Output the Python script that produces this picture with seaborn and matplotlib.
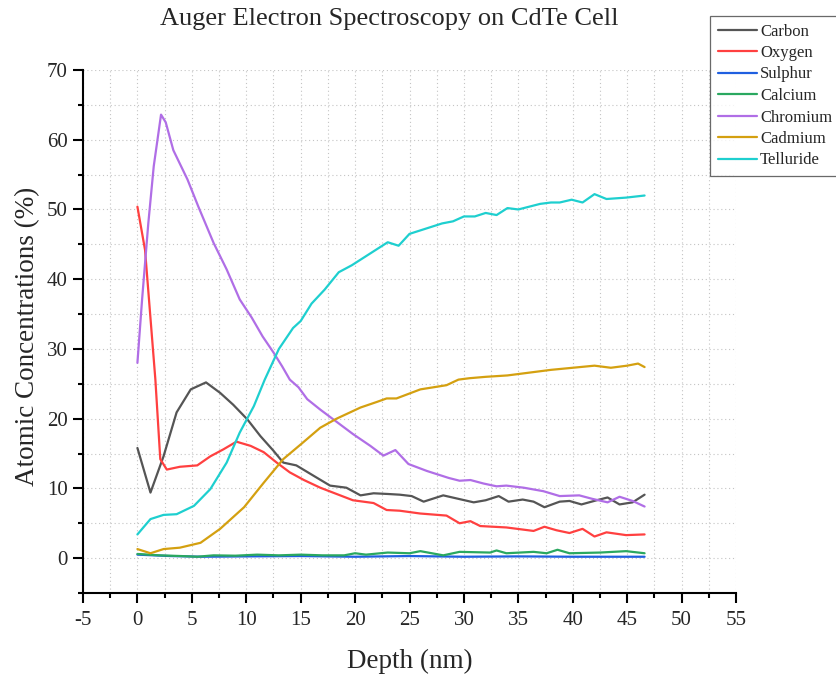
import numpy as np
import pandas as pd
import matplotlib
matplotlib.use("Agg")
import matplotlib.pyplot as plt
from matplotlib.ticker import MultipleLocator
import seaborn as sns

# ---- data ----
carbon_x = [0, 1.2, 2.4, 3.6, 4.9, 6.3, 7.6, 8.8, 10.1, 11.3, 12.5, 13.4, 14.6, 16.2, 17.7, 19.2, 20.5, 21.7,
            23, 24.1, 25.2, 26.3, 28.1, 29.5, 30.9, 32, 33.2, 34.1, 35.4, 36.4, 37.4, 38.8, 39.7, 40.8, 42.2,
            43.2, 44.3, 45.5, 46.6]
carbon_y = [15.8, 9.4, 14.6, 20.9, 24.2, 25.2, 23.7, 22.0, 19.9, 17.5, 15.4, 13.7, 13.3, 11.8, 10.4, 10.1, 9.0, 9.3,
            9.2, 9.1, 8.9, 8.1, 9.0, 8.5, 8.0, 8.3, 8.9, 8.1, 8.4, 8.1, 7.3, 8.1, 8.2, 7.7, 8.3,
            8.7, 7.7, 8.0, 9.1]

oxygen_x = [0, 0.7, 1.65, 2.1, 2.7, 3.9, 5.5, 6.7, 7.9, 9.1, 10.4, 11.6, 12.8, 14, 15.3, 16.8, 18.3, 19.8,
            21.7, 22.9, 24.1, 25.97, 28.4, 29.6, 30.6, 31.5, 33.9, 36.4, 37.4, 38.5, 39.7, 40.9, 42, 43.1,
            44.9, 46.6]
oxygen_y = [50.4, 44.2, 25.6, 14.2, 12.7, 13.1, 13.3, 14.6, 15.6, 16.7, 16.1, 15.2, 13.7, 12.3, 11.2, 10.1, 9.2, 8.3,
            7.9, 6.9, 6.8, 6.4, 6.1, 5.0, 5.3, 4.6, 4.4, 3.9, 4.5, 4.0, 3.6, 4.2, 3.1, 3.7,
            3.3, 3.4]

sulphur_x = [0, 3, 6, 10, 15, 20, 25, 30, 35, 40, 46.6]
sulphur_y = [0.5, 0.3, 0.2, 0.25, 0.3, 0.2, 0.3, 0.2, 0.25, 0.2, 0.2]

calcium_x = [0, 2, 4, 5.5, 7, 9, 11, 13, 15, 17, 19, 20, 21, 23, 25, 26, 28.1, 29.6, 32.4, 33, 33.9, 36.4,
             37.6, 38.6, 39.7, 42.5, 44.9, 46.6]
calcium_y = [0.6, 0.4, 0.3, 0.2, 0.4, 0.35, 0.5, 0.4, 0.5, 0.4, 0.4, 0.7, 0.5, 0.8, 0.7, 1.0, 0.4, 0.9, 0.8, 1.1,
             0.7, 0.9, 0.7, 1.2, 0.7, 0.8, 1.0, 0.7]

chromium_x = [0, 0.43, 1.0, 1.5, 2.17, 2.6, 3.3, 4.6, 5.6, 7.0, 8.2, 9.4, 10.5, 11.5, 12.5, 13.3, 14, 14.8, 15.6,
              16.8, 18, 19.8, 21.4, 22.6, 23.7, 24.9, 26.6, 28.6, 29.6, 30.6, 31.8, 33, 33.9, 35.5, 37.3,
              38.8, 40.6, 41.8, 43.2, 44.3, 45.5, 46.6]
chromium_y = [28.0, 37.1, 48.0, 56.2, 63.6, 62.5, 58.5, 54.3, 50.4, 45.2, 41.4, 37.1, 34.5, 31.8, 29.5, 27.5, 25.6,
              24.5, 22.8, 21.3, 19.9, 17.8, 16.1, 14.7, 15.5, 13.5, 12.5, 11.5, 11.1, 11.2, 10.7, 10.3, 10.4,
              10.1, 9.6, 8.9, 9.0, 8.5, 8.0, 8.8, 8.2, 7.4]

cadmium_x = [0, 1.2, 2.4, 3.9, 5.8, 7.6, 9.8, 11.6, 13.4, 15, 16.8, 18.3, 20.5, 22, 22.9, 23.8, 26, 28.4,
             29.5, 30.5, 32, 34, 36, 38, 40, 42, 43.5, 45, 46, 46.6]
cadmium_y = [1.3, 0.7, 1.3, 1.5, 2.2, 4.2, 7.3, 10.8, 14.2, 16.3, 18.7, 20.0, 21.6, 22.4, 22.9, 22.9, 24.2, 24.8,
             25.6, 25.8, 26.0, 26.2, 26.6, 27.0, 27.3, 27.6, 27.3, 27.6, 27.9, 27.4]

telluride_x = [0, 1.2, 2.4, 3.6, 5.2, 6.7, 8.2, 9.4, 10.7, 11.7, 13, 14.3, 15, 16, 17.2, 18.5, 19.7, 21, 22,
               23, 24, 25, 26, 27, 28, 29, 30, 31, 32, 33, 34, 35, 36, 37, 38, 38.8, 39.9, 40.9, 42, 43.1,
               44.9, 46.6]
telluride_y = [3.4, 5.6, 6.2, 6.3, 7.5, 9.9, 13.7, 18.0, 21.8, 25.6, 30.0, 33.0, 34.0, 36.5, 38.5, 41.0, 42.0,
               43.3, 44.3, 45.3, 44.8, 46.5, 47.0, 47.5, 48.0, 48.3, 49.0, 49.0, 49.5, 49.2, 50.2, 50.0, 50.4,
               50.8, 51.0, 51.0, 51.4, 51.0, 52.2, 51.5, 51.7, 52.0]

elements = ["Carbon", "Oxygen", "Sulphur", "Calcium", "Chromium", "Cadmium", "Telluride"]
colors = ["#555555", "#ff4040", "#1f5fe0", "#2aa860", "#b06ee6", "#d4a010", "#1ecfcf"]

series = {
    "Carbon": (carbon_x, carbon_y),
    "Oxygen": (oxygen_x, oxygen_y),
    "Sulphur": (sulphur_x, sulphur_y),
    "Calcium": (calcium_x, calcium_y),
    "Chromium": (chromium_x, chromium_y),
    "Cadmium": (cadmium_x, cadmium_y),
    "Telluride": (telluride_x, telluride_y),
}

rows = []
for name in elements:
    xs, ys = series[name]
    for i, (x, y) in enumerate(zip(xs, ys)):
        rows.append({"Depth": x, "Conc": y, "Element": name, "order": i})
df = pd.DataFrame(rows)

# ---- plotting ----
sns.set_style("white")
plt.rcParams["font.family"] = ["Liberation Serif", "DejaVu Serif"]
plt.rcParams["axes.unicode_minus"] = False

fig = plt.figure(figsize=(8.36, 6.81), dpi=100)
ax = fig.add_axes([83 / 836, 1 - 593 / 681, (736 - 83) / 836, (593 - 70) / 681])

sns.lineplot(data=df, x="Depth", y="Conc", hue="Element", hue_order=elements,
             palette=dict(zip(elements, colors)), sort=False, estimator=None,
             linewidth=1.6, ax=ax, legend=False, zorder=3)
for line in ax.get_lines():
    line.set_solid_joinstyle("round")
    line.set_solid_capstyle("round")

ax.set_xlim(-5, 55)
ax.set_ylim(-5, 70)
ax.xaxis.set_major_locator(MultipleLocator(5))
ax.xaxis.set_minor_locator(MultipleLocator(2.5))
ax.yaxis.set_major_locator(MultipleLocator(10))
ax.yaxis.set_minor_locator(MultipleLocator(5))

ax.grid(which="both", linestyle=(0, (1, 2.5)), color="#c4c4c4", linewidth=0.8, zorder=0)
ax.set_axisbelow(True)

for s in ["top", "right"]:
    ax.spines[s].set_visible(False)
for s in ["left", "bottom"]:
    ax.spines[s].set_linewidth(1.5)
    ax.spines[s].set_color("black")

ax.tick_params(which="major", direction="out", length=7, width=1.5, labelsize=15, pad=4,
               left=True, bottom=True, color="black")
ax.tick_params(axis="x", which="major", pad=6)
ax.tick_params(which="minor", direction="out", length=3.5, width=1.5, left=True, bottom=True,
               color="black")

ax.set_xlabel("Depth (nm)", fontsize=19.5)
ax.set_ylabel("Atomic Concentrations (%)", fontsize=19.5)
ax.xaxis.set_label_coords(0.5, -(649 - 593) / (593 - 70))
ax.yaxis.set_label_coords(-(83 - 40) / (736 - 83), 0.49)

fig.text(389 / 836, 1 - 19 / 681, "Auger Electron Spectroscopy on CdTe Cell",
         ha="center", va="center", fontsize=19)

handles = [plt.Line2D([], [], color=c, linewidth=1.6) for c in colors]
leg = fig.legend(handles, elements, loc="upper left", bbox_to_anchor=(710 / 836, 1 - 16 / 681),
                 frameon=True, fancybox=False, fontsize=12, handlelength=2.35, handletextpad=0.2,
                 borderpad=0.45, labelspacing=0.33, borderaxespad=0)
leg.get_frame().set_edgecolor("#444444")
leg.get_frame().set_linewidth(0.9)

fig.savefig("out.png", dpi=100)
